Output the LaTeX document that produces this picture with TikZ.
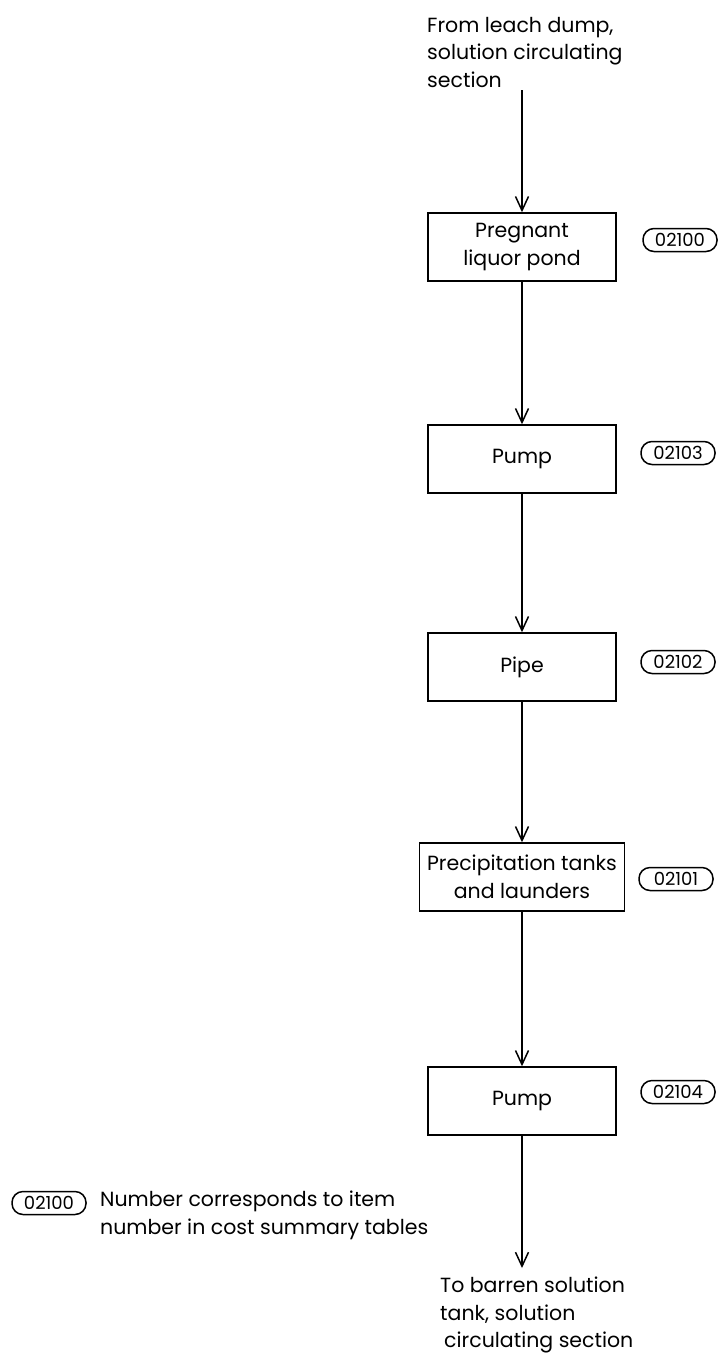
\documentclass[tikz,border=0pt]{standalone}
\usepackage{fontspec}
\setmainfont{Poppins}
\usepackage{tikz}
\usetikzlibrary{positioning, arrows.meta}

\begin{document}
\begin{tikzpicture}[
    x=1pt, y=-1pt,
    every node/.style={font=\fontsize{20.5}{27.5}\selectfont},
    box/.style={draw, line width=1.5pt, minimum width=188pt, minimum height=68pt, align=center},
    tag/.style={draw, line width=1.5pt, rounded corners=11pt, minimum width=74pt, minimum height=23pt, inner sep=1pt, font=\fontsize{18}{20}\selectfont},
    note/.style={align=left, inner sep=0pt, anchor=north west},
    flow/.style={draw, line width=1.5pt, -{Straight Barb[length=14pt, width=13pt, line width=1.5pt]}}
]
\useasboundingbox (0,0) rectangle (723,1353);

% flow line
\node[note] (from) at (427,17) {From leach dump,\\solution circulating\\section};
\coordinate (in) at (522,90);
\node[box] (pond) at (522,247) {Pregnant\\liquor pond};
\node[box] (pump1) at (522,459) {Pump};
\node[box] (pipe) at (522,667) {Pipe};
\node[box, minimum width=205pt] (tanks) at (522,877) {Precipitation tanks\\and launders};
\node[box] (pump2) at (522,1101) {Pump};
\coordinate (out) at (522,1268);
\node[note] (to) at (440,1277) {To barren solution\\tank, solution\\\hspace{4pt}circulating section};

\draw[flow] (in) -- (pond);
\draw[flow] (pond) -- (pump1);
\draw[flow] (pump1) -- (pipe);
\draw[flow] (pipe) -- (tanks);
\draw[flow] (tanks) -- (pump2);
\draw[flow] (pump2) -- (out);

% item numbers
\node[tag] (n1) at (680,240) {02100};
\node[tag] (n2) at (678,453) {02103};
\node[tag] (n3) at (678,662) {02102};
\node[tag] (n4) at (676,879) {02101};
\node[tag] (n5) at (678,1092) {02104};

% key
\node[tag] (key) at (49,1203) {02100};
\node[note] (keytext) at (100,1191) {Number corresponds to item\\number in cost summary tables};
\end{tikzpicture}
\end{document}
